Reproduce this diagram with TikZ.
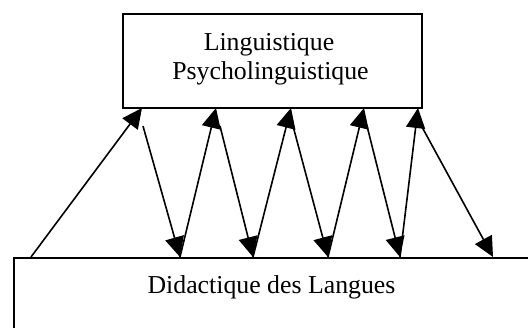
\documentclass[tikz,border=0pt]{standalone}
\usepackage{fontspec}
\setmainfont{Liberation Serif}
\usetikzlibrary{arrows.meta}
\tikzset{
  box/.style={draw, line width=1.6pt, inner sep=0pt},
  lbl/.style={inner sep=0pt, font=\fontsize{25.8}{29.5}\selectfont, anchor=base},
  link/.style={line width=1.6pt, -{Triangle[length=20pt,width=19pt]}},
}
\begin{document}
\begin{tikzpicture}[x=1pt,y=-1pt]
\useasboundingbox (0,0) rectangle (528,327);
\clip (0,0) rectangle (528,327);
\node[box, minimum width=299pt, minimum height=94pt] (top) at (272.5,61) {};
\node[box, minimum width=560pt, minimum height=120pt, anchor=north west] (bot) at (13,257) {};
\node[lbl] (l1) at (269,50) {Linguistique};
\node[lbl] (l2) at (270.5,79) {Psycholinguistique};
\node[lbl] (l3) at (271.5,293) {Didactique des Langues};
% anchor points
\coordinate (b0) at (31,257);
\coordinate (t1) at (142,108);
\coordinate (s1) at (143,126);
\coordinate (b1) at (180,257);
\coordinate (t2) at (216,108);
\coordinate (s2) at (220,126);
\coordinate (b2) at (253,257);
\coordinate (t3) at (291,108);
\coordinate (s3) at (293,126);
\coordinate (b3) at (328,257);
\coordinate (t4) at (364,108);
\coordinate (s4) at (367,126);
\coordinate (b4) at (400,257);
\coordinate (t5) at (418,108);
\coordinate (s5) at (422,127);
\coordinate (b5) at (493,257);
\draw[link] (b0) -- (t1);
\draw[link] (s1) -- (b1);
\draw[link] (b1) -- (t2);
\draw[link] (s2) -- (b2);
\draw[link] (b2) -- (t3);
\draw[link] (s3) -- (b3);
\draw[link] (b3) -- (t4);
\draw[link] (s4) -- (b4);
\draw[link] (b4) -- (t5);
\draw[link] (s5) -- (b5);
\end{tikzpicture}
\end{document}
